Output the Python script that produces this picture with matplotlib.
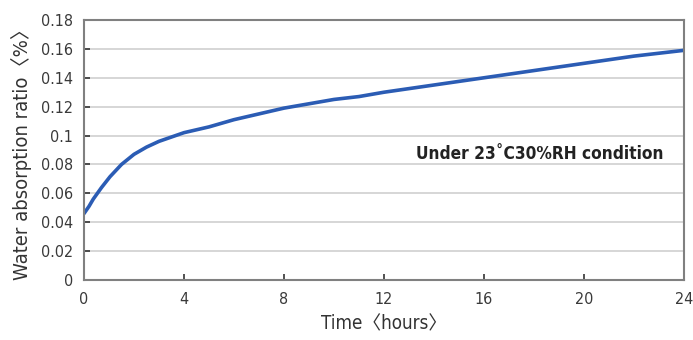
import numpy as np
import matplotlib.pyplot as plt

hours = [0, 0.2, 0.37, 0.7, 1.04, 1.5, 2.0, 2.5, 3, 4, 5, 6, 7, 8, 9, 10, 11, 12, 14, 16, 18, 20, 22, 24]
ratio = [0.046, 0.051, 0.056, 0.064, 0.0715, 0.080, 0.087, 0.092, 0.096, 0.102, 0.106, 0.111, 0.115, 0.119, 0.122, 0.125, 0.127, 0.130, 0.135, 0.140, 0.145, 0.150, 0.155, 0.159]

xticks = [0, 4, 8, 12, 16, 20, 24]
yticks = [0, 0.02, 0.04, 0.06, 0.08, 0.1, 0.12, 0.14, 0.16, 0.18]
ylabels = ['0', '0.02', '0.04', '0.06', '0.08', '0.1', '0.12', '0.14', '0.16', '0.18']

plt.rcParams['font.family'] = ['DejaVu Sans', 'Noto Sans CJK JP']
plt.rcParams['font.stretch'] = 'condensed'

fig = plt.figure(figsize=(6.93, 3.40), dpi=100)
ax = fig.add_axes([84/693, 60/340, 600/693, 260/340])

ax.plot(hours, ratio, color='#2b5cb4', lw=2.6, solid_capstyle='round')

ax.set_xlim(0, 24)
ax.set_ylim(0, 0.18)
ax.set_xticks(xticks)
ax.set_xticklabels([str(t) for t in xticks])
ax.set_yticks(yticks)
ax.set_yticklabels(ylabels)
ax.grid(axis='y', color='#d0d0d0', lw=1.2)
ax.set_axisbelow(True)
ax.tick_params(direction='in', length=4, width=1.2, color='#333333',
               labelsize=11.5, labelcolor='#3a3a3a')
ax.tick_params(axis='x', pad=9)
ax.tick_params(axis='y', pad=8)
for s in ax.spines.values():
    s.set_color('#808080')
    s.set_linewidth(1.5)

ax.set_xlabel('Time〈hours〉', fontsize=13.5, color='#333333', labelpad=5)
ax.set_ylabel('Water absorption ratio〈%〉', fontsize=14.5, color='#333333', labelpad=6)

ax.text(23.2, 0.087, 'Under 23˚C30%RH condition', ha='right', va='center',
        fontsize=12.4, fontweight='bold', color='#222222')

fig.savefig('out.png', dpi=100)
